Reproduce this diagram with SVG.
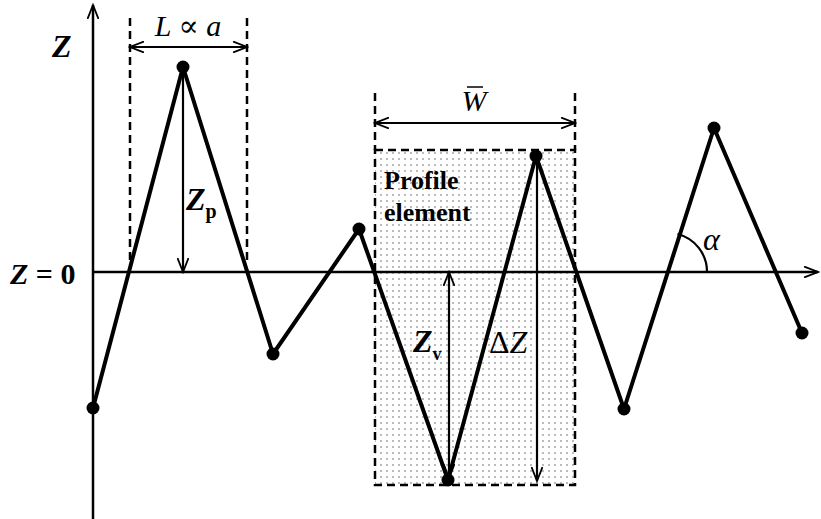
<svg xmlns="http://www.w3.org/2000/svg" width="821" height="519" viewBox="0 0 821 519">
<defs>
<pattern id="dots" width="6" height="6" patternUnits="userSpaceOnUse"><circle cx="3" cy="3" r="0.75" fill="#555"/></pattern>
<marker id="ah" markerWidth="16" markerHeight="12" refX="14" refY="6" orient="auto-start-reverse" markerUnits="userSpaceOnUse"><path d="M0,0.5 L14,6 L0,11.5 M14,6 L4,6" fill="none" stroke="#000" stroke-width="1.8"/></marker>
</defs>
<style>
.ax{stroke:#000;stroke-width:2.5;fill:none}
.dash{stroke:#000;stroke-width:2.5;stroke-dasharray:8,5;fill:none}
.prof{stroke:#000;stroke-width:4;fill:none;stroke-linejoin:round}
.dim{stroke:#000;stroke-width:2.2;fill:none}
.dot{fill:#000}
text{font-family:'Liberation Serif','Times New Roman','DejaVu Serif',serif;fill:#000}
.bi{font-weight:bold;font-style:italic}
.b{font-weight:bold}
.i{font-style:italic}
</style>
<g id="element-box">
<rect x="375" y="150" width="200" height="335" fill="url(#dots)"/>
<rect x="375" y="150" width="200" height="335" class="dash"/>
<line x1="375" y1="93" x2="375" y2="150" class="dash"/>
<line x1="575" y1="93" x2="575" y2="150" class="dash"/>
<text x="384" y="189" class="b" font-size="26" font-family="Liberation Serif, serif">Profile</text>
<text x="384" y="221" class="b" font-size="26" font-family="Liberation Serif, serif">element</text>
</g>
<g id="axes">
<line x1="93" y1="519" x2="93" y2="5" class="ax" marker-end="url(#ah)"/>
<line x1="93" y1="272" x2="818" y2="272" class="ax" marker-end="url(#ah)"/>
<text x="52" y="57" class="bi" font-size="32" font-family="Liberation Serif, serif">Z</text>
<text x="10" y="284" class="b" font-size="30" font-family="Liberation Serif, serif"><tspan font-style="italic">Z</tspan> = 0</text>
</g>
<g id="L-dim">
<line x1="130" y1="18" x2="130" y2="265" class="dash"/>
<line x1="247" y1="18" x2="247" y2="265" class="dash"/>
<line x1="130" y1="47" x2="247" y2="47" class="dim" marker-start="url(#ah)" marker-end="url(#ah)"/>
<text x="188" y="36" class="i" font-size="30" text-anchor="middle" font-family="Liberation Serif, serif">L ∝ a</text>
</g>
<g id="W-dim">
<line x1="375" y1="123" x2="575" y2="123" class="dim" marker-start="url(#ah)" marker-end="url(#ah)"/>
<text x="474" y="111" class="i" font-size="30" text-anchor="middle" font-family="Liberation Serif, serif">W</text>
<line x1="467" y1="87" x2="483" y2="87" stroke="#000" stroke-width="1.5"/>
</g>
<g id="connectors">
<line x1="183" y1="70" x2="183" y2="272" class="dim" marker-start="url(#ah)" marker-end="url(#ah)"/>
<line x1="449" y1="272" x2="449" y2="478" class="dim" marker-start="url(#ah)" marker-end="url(#ah)"/>
<line x1="537" y1="158" x2="537" y2="481" class="dim" marker-start="url(#ah)" marker-end="url(#ah)"/>
<path d="M707,272 A39,39 0 0 0 677.5,234" class="dim" stroke-width="2.5"/>
</g>
<g id="profile">
<polyline points="93,408 183,67 273,354 359,229 448,480 536,156 624,409 714,128 802,333" class="prof"/>
<circle cx="93" cy="408" r="6.5" class="dot"/>
<circle cx="183" cy="67" r="6.5" class="dot"/>
<circle cx="273" cy="354" r="6.5" class="dot"/>
<circle cx="359" cy="229" r="6.5" class="dot"/>
<circle cx="448" cy="480" r="6.5" class="dot"/>
<circle cx="536" cy="156" r="6.5" class="dot"/>
<circle cx="624" cy="409" r="6.5" class="dot"/>
<circle cx="714" cy="128" r="6.5" class="dot"/>
<circle cx="802" cy="333" r="6.5" class="dot"/>
</g>
<g id="labels">
<text x="186" y="210" class="bi" font-size="32" font-family="Liberation Serif, serif">Z<tspan font-size="20" font-style="normal" dy="8">p</tspan></text>
<text x="413" y="352" class="bi" font-size="32" font-family="Liberation Serif, serif">Z<tspan font-size="18" font-style="normal" dy="8">v</tspan></text>
<text x="489" y="353" font-size="32" font-family="Liberation Serif, serif">Δ<tspan font-style="italic">Z</tspan></text>
<text x="703" y="250" class="i" font-size="32" font-family="Liberation Serif, serif">α</text>
</g>
</svg>
